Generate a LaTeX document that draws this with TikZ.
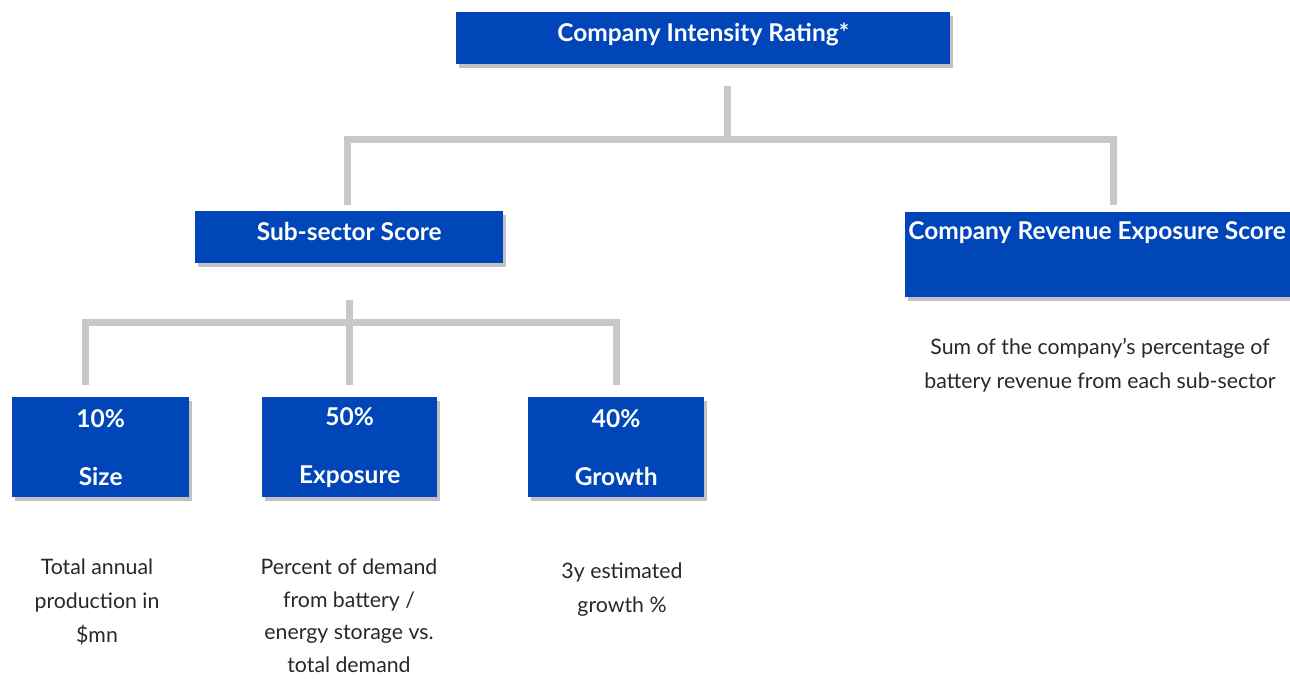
\documentclass[tikz,border=0pt]{standalone}
\usepackage{fontspec}
\setmainfont{Lato}
\usetikzlibrary{shadows}

\definecolor{boxblue}{RGB}{0,70,185}
\definecolor{linkgrey}{RGB}{200,200,200}
\definecolor{notegrey}{RGB}{40,40,40}

\tikzset{
    scorebox/.style={fill=boxblue, inner sep=0pt, anchor=north west,
        drop shadow={shadow xshift=3pt, shadow yshift=-4pt, opacity=0.35, fill=black!70}},
    boxtext/.style={text=white, align=center, font=\bfseries\fontsize{24.5}{30}\selectfont},
    linkline/.style={linkgrey, line width=7pt},
    note/.style={text=notegrey, align=center, inner sep=0pt, font=\fontsize{21.3}{34}\selectfont}
}

\begin{document}
\begin{tikzpicture}[x=1pt,y=-1pt]
        \useasboundingbox (0,0) rectangle (1290,678);
        % boxes
        \node[scorebox, minimum width=494, minimum height=52, boxtext, text depth=11pt] (top) at (456,12) {Company Intensity Rating*};
        \node[scorebox, minimum width=308, minimum height=52, boxtext, text depth=11pt] (sub) at (195,211) {Sub-sector Score};
        \node[scorebox, minimum width=385, minimum height=85] (rev) at (905,212) {};
        \node[boxtext] (revtitle) at (1097,233) {Company Revenue Exposure Score};
        \node[scorebox, minimum width=177, minimum height=100, boxtext] (size) at (12,397) {10\%\\[28pt]Size};
        \node[scorebox, minimum width=175, minimum height=100, boxtext] (expo) at (262,397) {50\%\\[28pt]Exposure};
        \node[scorebox, minimum width=176, minimum height=100, boxtext] (grow) at (528,397) {40\%\\[28pt]Growth};
        % notes
        \node[note, anchor=north] (sizenote) at (97,559) {Total annual\\production in\\\$mn};
        \node[note, anchor=north, font=\fontsize{21.3}{32.5}\selectfont] (exponote) at (349,559) {Percent of demand\\from battery /\\energy storage vs.\\total demand};
        \node[note, anchor=north] (grownote) at (622,563) {3y estimated\\growth \%};
        \node[note, anchor=north] (revnote) at (1100,338) {Sum of the company's percentage of\\battery revenue from each sub-sector};
        % connectors
        \coordinate (topout) at (727,86);
        \coordinate (subin) at (347,205);
        \coordinate (revin) at (1113,205);
        \draw[linkline] (topout) -- ++(0,53);
        \draw[linkline] (subin) -- ++(0,-66) -| (revin);
        \coordinate (subout) at (349,300);
        \coordinate (sizein) at (85,385);
        \coordinate (expoin) at (349,385);
        \coordinate (growin) at (616,385);
        \draw[linkline] (subout) -- (expoin);
        \draw[linkline] (sizein) -- ++(0,-63) -| (growin);
\end{tikzpicture}
\end{document}
